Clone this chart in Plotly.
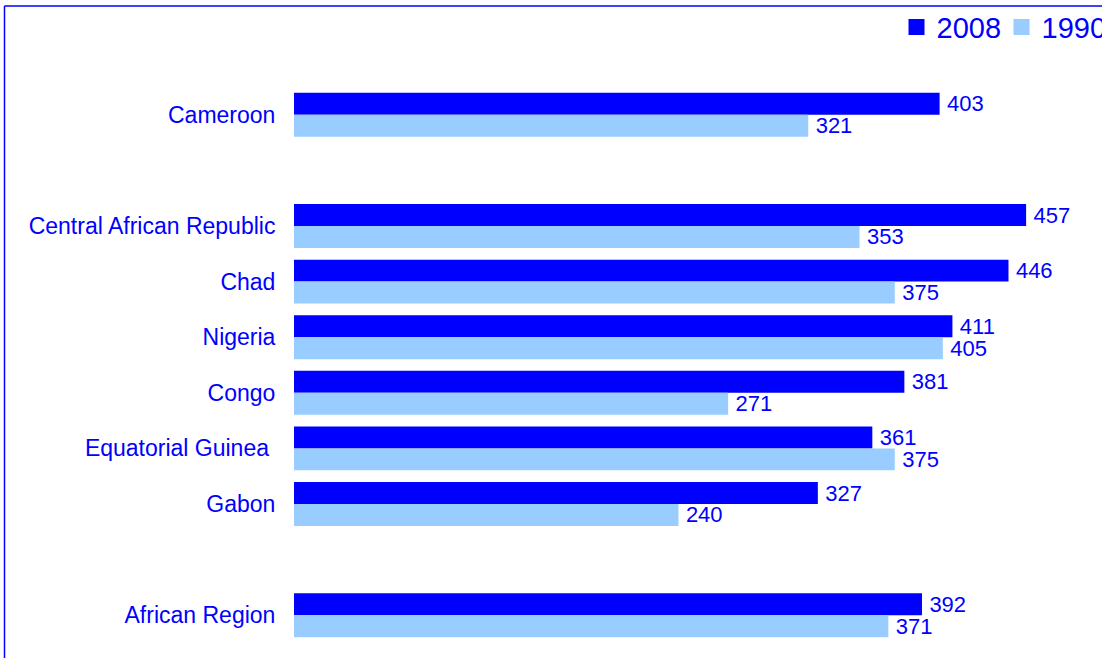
import plotly.graph_objects as go

categories = ["Cameroon", "Central African Republic", "Chad", "Nigeria", "Congo",
              "Equatorial Guinea\u00a0", "Gabon", "African Region"]
slots = [0, 2, 3, 4, 5, 6, 7, 9]
series_names = ["2008", "1990"]
values_2008 = [403, 457, 446, 411, 381, 361, 327, 392]
values_1990 = [321, 353, 375, 405, 271, 375, 240, 371]

BLUE = "#0000FF"
LIGHT = "#99CCFF"
FONT = "Liberation Sans, Arial, sans-serif"

fig = go.Figure()
for name, vals, col in [(series_names[0], values_2008, BLUE), (series_names[1], values_1990, LIGHT)]:
    fig.add_trace(go.Bar(
        name=name, y=slots, x=vals, orientation="h", showlegend=False, legendgroup=name,
        marker=dict(color=col, line=dict(width=0)),
        text=["\u2009" + str(v) for v in vals], textposition="outside",
        textfont=dict(color=BLUE, size=22, family=FONT),
        constraintext="none", cliponaxis=False, hoverinfo="skip",
    ))
# legend entries (larger square swatches)
for name, col in [(series_names[0], BLUE), (series_names[1], LIGHT)]:
    fig.add_trace(go.Scatter(
        name=name, x=[None], y=[None], mode="markers", legendgroup=name,
        marker=dict(symbol="square", size=19, color=col, line=dict(width=0)),
        showlegend=True,
    ))

# plot-area geometry (pixels)
L, T, W, H = 294, 87, 801, 556.5
def px(x):
    return (x - L) / W
def py(y):
    return (T + H - y) / H

fig.update_layout(
    width=1102, height=658,
    margin=dict(l=L, r=1102 - L - W, t=T, b=658 - T - H, pad=0, autoexpand=False),
    paper_bgcolor="white", plot_bgcolor="white",
    barmode="group", bargap=0.21, bargroupgap=0,
    font=dict(family=FONT, color=BLUE, size=22),
    showlegend=True,
    legend=dict(orientation="h", x=px(896.5), xanchor="left", y=py(27), yanchor="middle",
                font=dict(size=29, color=BLUE, family=FONT), entrywidth=60,
                bgcolor="rgba(0,0,0,0)", borderwidth=0, traceorder="normal"),
    xaxis=dict(range=[0, 500], visible=False, showgrid=False, zeroline=False),
    yaxis=dict(range=[9.5, -0.5], tickmode="array", tickvals=slots, ticktext=categories,
               showgrid=False, zeroline=False, showline=False,
               ticks="outside", ticklen=13, tickcolor="white",
               tickfont=dict(size=23, color=BLUE, family=FONT)),
    shapes=[
        dict(type="line", xref="paper", yref="paper", x0=px(4.5), x1=px(4.5), y0=py(6), y1=py(670),
             line=dict(color=BLUE, width=1.5)),
        dict(type="line", xref="paper", yref="paper", x0=px(4.5), x1=px(1110), y0=py(6), y1=py(6),
             line=dict(color=BLUE, width=1.5)),
    ],
)

fig.write_html("out.html", config={"displayModeBar": False},
               post_script="document.body.style.margin='0';")
